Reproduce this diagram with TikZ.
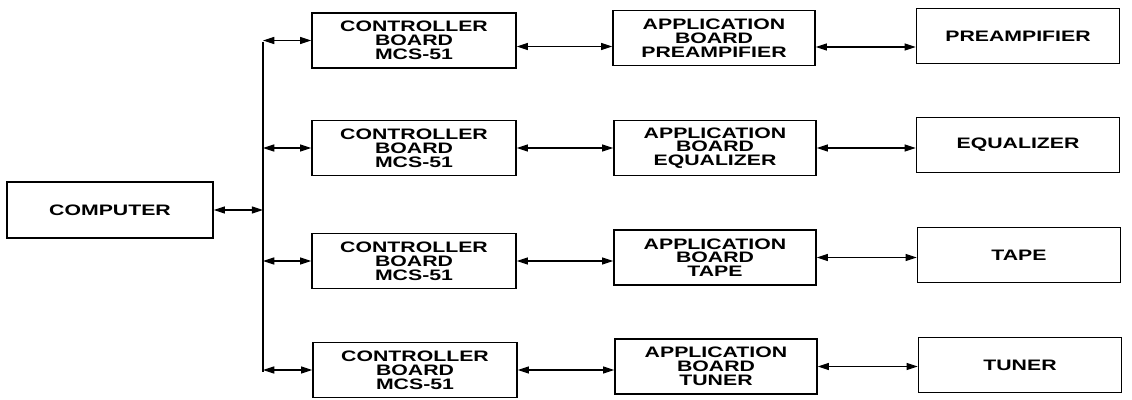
\documentclass[tikz,border=0pt]{standalone}
\usepackage{fontspec}
\newfontfamily\blockfont{Liberation Sans}[FakeStretch=1.4]
\usetikzlibrary{arrows.meta}
\begin{document}
\begin{tikzpicture}[x=0.025cm,y=-0.025cm,line width=0.8pt,
    blk/.style={draw,line width=1pt,inner sep=0pt,align=center,
      minimum height=55*0.025cm,
      font=\blockfont\bfseries\fontsize{10.8}{9.8}\selectfont},
    link/.style={{Triangle[length=8pt,width=5pt]}-{Triangle[length=8pt,width=5pt]}}]
  \useasboundingbox (0,0) rectangle (1132,400);
  % computer on the left
  \node[blk,minimum width=206*0.025cm,minimum height=56*0.025cm] (comp) at (110,210) {COMPUTER};
  % controller boards
  \node[blk,minimum width=204*0.025cm] (ctrlA) at (414,40.5) {CONTROLLER\\BOARD\\MCS-51};
  \node[blk,minimum width=204*0.025cm] (ctrlB) at (414,148) {CONTROLLER\\BOARD\\MCS-51};
  \node[blk,minimum width=204*0.025cm] (ctrlC) at (414,261) {CONTROLLER\\BOARD\\MCS-51};
  \node[blk,minimum width=204*0.025cm] (ctrlD) at (415,370) {CONTROLLER\\BOARD\\MCS-51};
  % application boards
  \node[blk,minimum width=202*0.025cm] (appA) at (714,38) {APPLICATION\\BOARD\\PREAMPIFIER};
  \node[blk,minimum width=202*0.025cm] (appB) at (715,148) {APPLICATION\\BOARD\\EQUALIZER};
  \node[blk,minimum width=202*0.025cm] (appC) at (715,257.5) {APPLICATION\\BOARD\\TAPE};
  \node[blk,minimum width=202*0.025cm] (appD) at (716,366.5) {APPLICATION\\BOARD\\TUNER};
  % units on the right
  \node[blk,minimum width=203*0.025cm] (devA) at (1018,36) {PREAMPIFIER};
  \node[blk,minimum width=203*0.025cm] (devB) at (1018,145) {EQUALIZER};
  \node[blk,minimum width=203*0.025cm] (devC) at (1019,255) {TAPE};
  \node[blk,minimum width=203*0.025cm] (devD) at (1020,365) {TUNER};
  % bus line
  \coordinate (bustop) at (263,42);
  \coordinate (busbot) at (263,372);
  \draw (bustop) -- (busbot);
  \draw[link] (comp.east) -- (comp.east -| bustop);
  \draw[link] (ctrlA.west -| bustop) -- (ctrlA.west);
  \draw[link] (ctrlB.west -| bustop) -- (ctrlB.west);
  \draw[link] (ctrlC.west -| bustop) -- (ctrlC.west);
  \draw[link] (ctrlD.west -| bustop) -- (ctrlD.west);
  % controller to application
  \draw[link] ([yshift=-6*0.025cm]ctrlA.east) -- ([yshift=-6*0.025cm]ctrlA.east -| appA.west);
  \draw[link] (ctrlB.east) -- (ctrlB.east -| appB.west);
  \draw[link] (ctrlC.east) -- (ctrlC.east -| appC.west);
  \draw[link] (ctrlD.east) -- (ctrlD.east -| appD.west);
  % application to unit
  \draw[link] ([yshift=-9*0.025cm]appA.east) -- ([yshift=-9*0.025cm]appA.east -| devA.west);
  \draw[link] (appB.east) -- (appB.east -| devB.west);
  \draw[link] (appC.east) -- (appC.east -| devC.west);
  \draw[link] (appD.east) -- (appD.east -| devD.west);
\end{tikzpicture}
\end{document}
